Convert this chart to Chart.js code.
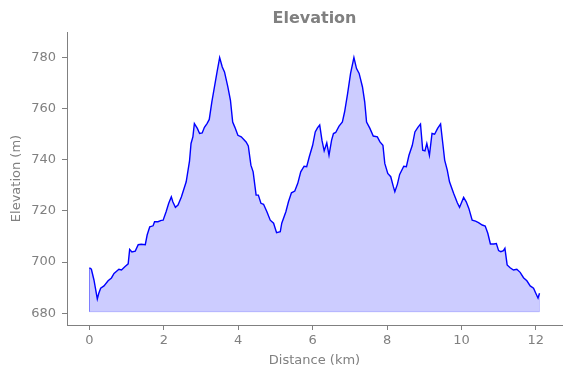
<!DOCTYPE html>
<html>
<head>
<meta charset="utf-8">
<script src="https://cdn.jsdelivr.net/npm/chart.js@4/dist/chart.umd.min.js"></script>
<style>
  html, body { margin: 0; padding: 0; background: #fff; }
  #wrap { width: 571px; height: 378px; position: relative; }
</style>
</head>
<body>
<div id="wrap"><canvas id="elevChart"></canvas></div>
<script>
// distance along the route (km) and elevation (m)
const distKm = [
  0.00, 0.05, 0.12, 0.21, 0.25, 0.30, 0.39, 0.50, 0.59, 0.66, 0.79, 0.86, 0.95, 1.04, 1.08, 1.14,
  1.23, 1.31, 1.39, 1.50, 1.55, 1.62, 1.71, 1.75, 1.84, 1.93, 1.98, 2.06, 2.13, 2.20, 2.24, 2.31,
  2.38, 2.47, 2.60, 2.69, 2.73, 2.78, 2.82, 2.90, 2.96, 3.03, 3.09, 3.16, 3.22, 3.29, 3.36, 3.43,
  3.50, 3.57, 3.63, 3.72, 3.79, 3.85, 3.91, 3.99, 4.08, 4.21, 4.27, 4.34, 4.40, 4.48, 4.54, 4.61,
  4.68, 4.77, 4.86, 4.95, 5.03, 5.13, 5.17, 5.28, 5.35, 5.43, 5.52, 5.60, 5.68, 5.77, 5.84, 5.91,
  6.00, 6.07, 6.13, 6.19, 6.25, 6.31, 6.38, 6.44, 6.51, 6.56, 6.62, 6.71, 6.80, 6.86, 6.94, 7.02,
  7.11, 7.18, 7.25, 7.34, 7.40, 7.45, 7.54, 7.63, 7.74, 7.81, 7.89, 7.94, 8.02, 8.10, 8.17, 8.21,
  8.28, 8.34, 8.45, 8.52, 8.59, 8.68, 8.75, 8.83, 8.90, 8.96, 9.02, 9.07, 9.14, 9.21, 9.28, 9.36,
  9.44, 9.50, 9.55, 9.62, 9.68, 9.79, 9.89, 9.95, 10.06, 10.13, 10.20, 10.29, 10.38, 10.46, 10.56, 10.64,
  10.71, 10.78, 10.87, 10.94, 11.00, 11.06, 11.13, 11.17, 11.23, 11.31, 11.40, 11.49, 11.58, 11.67, 11.76, 11.85,
  11.94, 12.00, 12.06, 12.10
];
const elevM = [
  697.8, 697.2, 693.0, 685.6, 687.8, 689.8, 690.7, 692.7, 693.8, 695.6, 697.2, 696.9, 698.2, 699.3, 705.0, 704.0,
  704.3, 706.8, 707.0, 706.8, 710.6, 713.8, 714.2, 715.8, 715.8, 716.3, 716.4, 719.7, 723.0, 725.5, 723.6, 721.4,
  722.3, 725.5, 731.4, 739.6, 746.4, 749.0, 754.2, 752.3, 750.3, 750.5, 752.7, 754.2, 755.8, 762.7, 768.5, 774.4,
  780.0, 776.3, 774.4, 768.5, 763.3, 754.8, 752.7, 749.6, 749.0, 747.0, 745.4, 737.9, 735.3, 726.2, 726.2, 723.0,
  722.6, 719.7, 716.4, 715.2, 711.5, 711.9, 715.2, 719.7, 723.6, 727.1, 727.8, 730.8, 735.3, 737.5, 737.3, 741.2,
  745.7, 750.9, 752.5, 753.6, 747.7, 743.5, 746.6, 741.8, 747.7, 750.3, 750.7, 753.2, 754.8, 758.8, 765.9, 773.8,
  780.0, 775.7, 773.8, 768.5, 762.7, 754.8, 752.3, 749.3, 749.0, 747.0, 745.7, 738.6, 734.7, 733.4, 729.5, 727.5,
  730.5, 734.3, 737.5, 737.3, 741.8, 745.7, 750.9, 752.7, 754.0, 743.8, 743.5, 746.4, 741.8, 750.3, 750.0, 752.3,
  754.0, 746.4, 739.9, 736.0, 731.4, 726.9, 723.2, 721.4, 725.3, 723.6, 721.0, 716.4, 716.0, 715.4, 714.5, 714.1,
  711.3, 707.1, 707.1, 707.3, 704.5, 704.1, 704.5, 705.4, 698.9, 697.8, 696.9, 697.2, 696.0, 693.9, 692.7, 690.7,
  689.8, 687.8, 685.9, 687.8
];
const fillBase = 680.6;
const xTicks = [0, 2, 4, 6, 8, 10, 12];
const yTicks = [680, 700, 720, 740, 760, 780];

const grey = '#808080';
const profile = distKm.map((d, i) => ({ x: d, y: elevM[i] }));
const last = distKm.length - 1;
// outline of the shaded area (edges + base), drawn faint like the fill edge
const edge = [
  { x: distKm[0], y: elevM[0] },
  { x: distKm[0], y: fillBase },
  { x: distKm[last], y: fillBase },
  { x: distKm[last], y: elevM[last] }
];

const ctx = document.getElementById('elevChart').getContext('2d');
new Chart(ctx, {
  type: 'line',
  data: {
    datasets: [{
      data: profile,
      borderColor: '#0000ff',
      borderWidth: 1.4,
      backgroundColor: 'rgba(0,0,255,0.2)',
      fill: { value: fillBase },
      pointRadius: 0,
      tension: 0
    }, {
      data: edge,
      borderColor: 'rgba(0,0,255,0.2)',
      borderWidth: 1,
      fill: false,
      pointRadius: 0,
      tension: 0
    }]
  },
  options: {
    responsive: true,
    maintainAspectRatio: false,
    animation: false,
    layout: { padding: { left: 0, right: 9, top: 0, bottom: 0 } },
    plugins: {
      legend: { display: false },
      tooltip: { enabled: false },
      title: {
        display: true,
        text: 'Elevation',
        fullSize: false,
        color: grey,
        font: { family: "'DejaVu Sans', sans-serif", size: 16, weight: 'bold' },
        padding: { top: 9, bottom: 3.8 }
      }
    },
    scales: {
      x: {
        type: 'linear',
        min: -0.605,
        max: 12.705,
        afterBuildTicks: (scale) => { scale.ticks = xTicks.map(v => ({ value: v })); },
        afterFit: (scale) => { scale.height = 53; },
        ticks: {
          color: grey,
          font: { family: "'DejaVu Sans', sans-serif", size: 13 },
          padding: 3,
          maxRotation: 0
        },
        grid: { drawOnChartArea: false, drawTicks: true, tickLength: 5, color: grey },
        border: { display: true, color: grey, width: 1 },
        title: {
          display: true,
          text: 'Distance (km)',
          color: grey,
          font: { family: "'DejaVu Sans', sans-serif", size: 13 },
          padding: { top: 9.2, bottom: 9.2 }
        }
      },
      y: {
        type: 'linear',
        min: 675.4,
        max: 790,
        afterBuildTicks: (scale) => { scale.ticks = yTicks.map(v => ({ value: v })); },
        afterFit: (scale) => { scale.width = 67; },
        ticks: {
          color: grey,
          font: { family: "'DejaVu Sans', sans-serif", size: 13 },
          padding: 6
        },
        grid: { drawOnChartArea: false, drawTicks: true, tickLength: 5, color: grey },
        border: { display: true, color: grey, width: 1 },
        title: {
          display: true,
          text: 'Elevation (m)',
          color: grey,
          font: { family: "'DejaVu Sans', sans-serif", size: 13 },
          padding: { top: 9.2, bottom: 9.2 }
        }
      }
    }
  }
});
</script>
</body>
</html>
